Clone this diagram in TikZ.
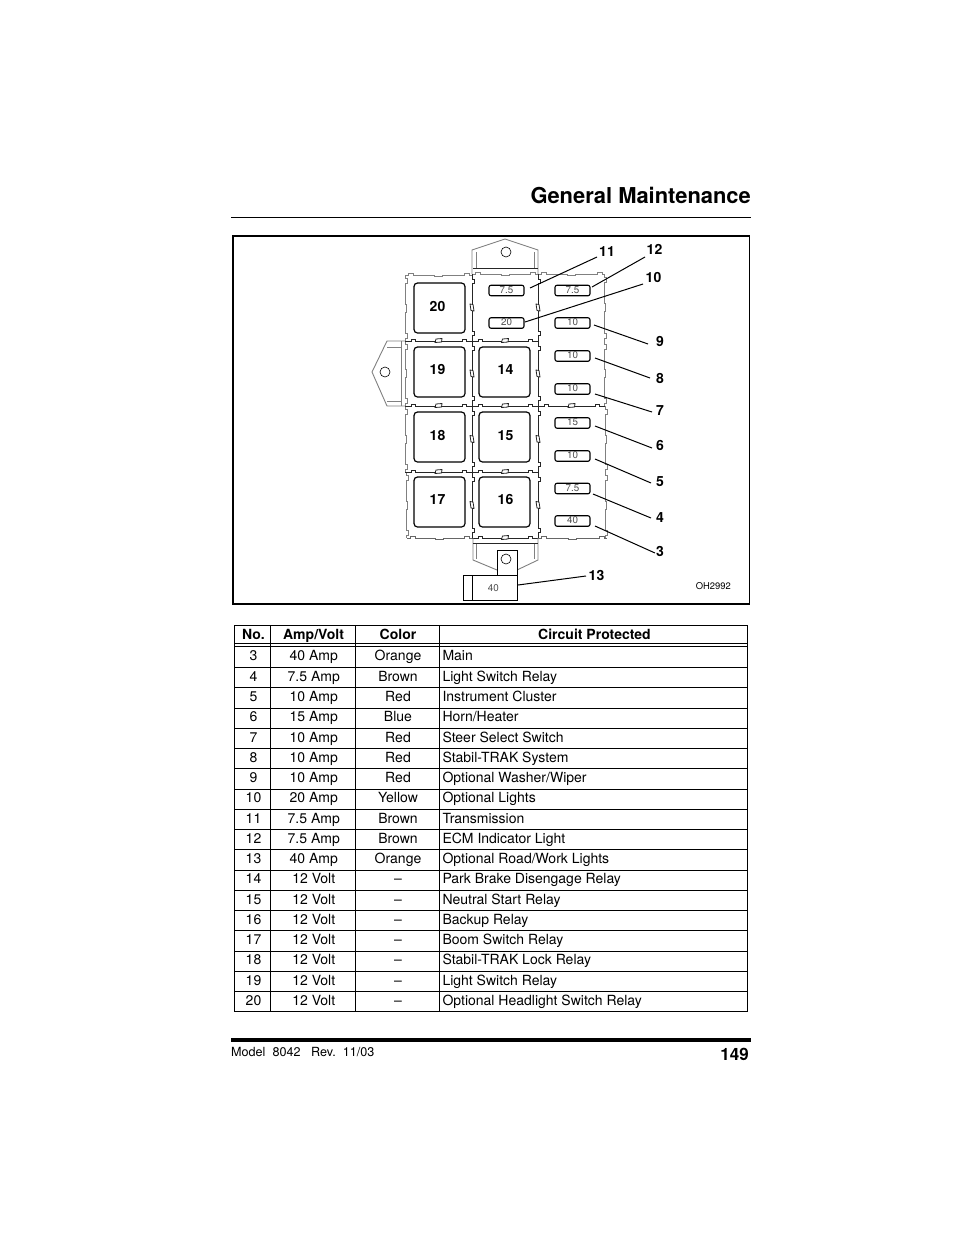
\documentclass[tikz,border=0pt]{standalone}
\usepackage{fontspec}
\setmainfont{TeX Gyre Heros}
\tikzset{
  relay/.style={draw=black,line width=1.2pt,rounded corners=3.5pt,minimum width=51pt,minimum height=50pt,inner sep=0pt},
  relaylabel/.style={inner sep=0pt,font=\fontsize{14}{14}\selectfont\bfseries},
  fuse/.style={draw=black,line width=1.1pt,rounded corners=2pt,minimum width=35pt,minimum height=10.5pt,inner sep=0pt,text=black!70,font=\fontsize{9.8}{9.8}\selectfont},
  callout/.style={inner sep=0pt,font=\fontsize{14}{14}\selectfont\bfseries},
  leader/.style={draw=black,line width=1pt},
  cell/.style={anchor=base,inner sep=0pt,font=\fontsize{14}{14}\selectfont},
  head/.style={anchor=base,inner sep=0pt,font=\fontsize{14}{14}\selectfont\bfseries},
  rule/.style={draw=black,line width=0.7pt},
  outer/.style={draw=black!50,line width=0.9pt},
  inner/.style={draw=black!85,line width=0.8pt},
}
\newcommand{\hedge}[4]{% x1 x2 y style
  \draw[#4] (#1,#3) -- ++(3,0) -- ++(0,-2) -- ++(5,0) -- ++(0,2)
    -- ({(#1+#2)/2-4},#3) -- ++(0,1.5) -- ++(8,0) -- ++(0,-1.5)
    -- (#2-8,#3) -- ++(0,-2) -- ++(5,0) -- ++(0,2) -- (#2,#3);}
\newcommand{\vedge}[4]{% y1 y2 x style
  \draw[#4] (#3,#1) -- ++(0,3) -- ++(2,0) -- ++(0,5) -- ++(-2,0)
    -- (#3,{(#1+#2)/2-4}) -- ++(1.5,0) -- ++(0,8) -- ++(-1.5,0)
    -- (#3,#2-8) -- ++(2,0) -- ++(0,5) -- ++(-2,0) -- (#3,#2);}
\newcommand{\hclip}[3]{% x1 x2 y
  \draw[inner] (#1,#3) -- ++(6,0) -- ++(0,-2) -- ++(4,0) -- ++(0,2) -- ({(#1+#2)/2-3},#3);
  \draw[inner] ({(#1+#2)/2+3},#3) -- (#2-10,#3) -- ++(0,-2) -- ++(4,0) -- ++(0,2) -- (#2,#3);
  \draw[inner] ({(#1+#2)/2-3.5},#3+1.5) -- ++(1,-3.5) -- ++(6,-0.5) -- ++(-0.5,3.5) -- cycle;}
\newcommand{\vclip}[3]{% y1 y2 x
  \draw[inner] (#3,#1) -- ++(0,5) -- ++(2,0) -- ++(0,4) -- ++(-2,0) -- (#3,{(#1+#2)/2-3});
  \draw[inner] (#3,{(#1+#2)/2+3}) -- (#3,#2-10) -- ++(2,0) -- ++(0,4) -- ++(-2,0) -- (#3,#2);
  \draw[inner] (#3-2,{(#1+#2)/2-3.5}) -- ++(3,0.5) -- ++(1,6.5) -- ++(-3,-0.5) -- cycle;}
\begin{document}
\begin{tikzpicture}[x=1pt,y=-1pt]
\useasboundingbox (0,0) rectangle (954,1235);
\fill[white] (0,0) rectangle (954,1235);
% page furniture
\node[anchor=base east,inner sep=0pt,font=\fontsize{21.9}{22}\selectfont\bfseries] (title) at (751,203) {General Maintenance};
\draw[rule] (231,217.5) -- (751,217.5);
\draw[line width=1.5pt] (233,236) rectangle (749.5,604);
\draw[line width=4pt] (231,1040) -- (751,1040);
\node[anchor=base west,inner sep=0pt,font=\fontsize{12.6}{12}\selectfont] (footer) at (231,1056.5) {Model\ \ 8042\ \ \ Rev.\ \ 11/03};
\node[anchor=base east,inner sep=0pt,font=\fontsize{17}{17}\selectfont\bfseries] (page) at (749,1060) {149};
% fuse block outer edges
\hedge{405}{472}{275}{outer}
\hedge{472}{538}{274}{outer}
\hedge{538}{605}{274}{outer}
\vedge{275}{341}{405}{outer}
\vedge{341}{406}{405}{outer}
\vedge{406}{472}{405}{outer}
\vedge{472}{538}{406}{outer}
\vedge{274}{341}{604}{outer}
\vedge{341}{406}{604}{outer}
\vedge{406}{472}{605}{outer}
\vedge{472}{538}{605}{outer}
\hedge{407}{472}{538}{black!60}
\hedge{538}{607}{538}{black!60}
% inner edges
\hclip{405}{472}{341}\hclip{472}{538}{341}
\hclip{405}{472}{406}\hclip{472}{538}{406}\hclip{538}{605}{406}
\hclip{405}{472}{472}\hclip{472}{538}{472}
\hclip{472}{538}{538}
\vclip{274}{341}{472}\vclip{274}{341}{538}
\vclip{341}{406}{472}\vclip{341}{406}{538}
\vclip{406}{472}{472}\vclip{406}{472}{538}
\vclip{472}{538}{472}\vclip{472}{538}{538}
% top tab
\draw[outer] (472,274) -- (472,250) -- (505,239) -- (538,250) -- (538,274);
\draw[outer] (476,252) -- (476,268) (534,252) -- (534,268);
\draw[inner] (473,268) -- (538,268);
\node[draw=black,line width=0.6pt,circle,minimum size=10pt,inner sep=0pt] (holetop) at (506,252) {};
% left tab
\draw[outer] (405,341) -- (387,341) -- (372,372) -- (387,406) -- (405,406);
\draw[outer] (387,347) -- (401,347) (387,401) -- (401,401);
\draw[outer] (401,341) -- (401,406);
\node[draw=black,line width=0.6pt,circle,minimum size=10pt,inner sep=0pt] (holeleft) at (385,372) {};
% bottom tab
\draw[outer] (473,538) -- (473,560) -- (497,570) (538,538) -- (538,560) -- (517,570);
\draw[outer] (476,543) -- (476,559) (534,543) -- (534,559);
\draw[inner] (473,543) -- (538,543);
\draw[draw=black,line width=0.7pt,fill=white] (497,550) rectangle (517,575);
\node[draw=black,line width=0.6pt,circle,minimum size=10pt,inner sep=0pt] (holebottom) at (506,559) {};
% fuse 13 body
\node[draw=black,line width=0.8pt,fill=white,minimum width=54pt,minimum height=25pt,inner sep=0pt,anchor=north west,text=black!70,font=\fontsize{9.8}{9.8}\selectfont] (f13) at (463,575) {\hspace{6pt}\raisebox{0.5pt}{40}};
\draw[line width=0.8pt] ([xshift=9pt]f13.north west) -- ([xshift=9pt]f13.south west);
% relays
\foreach \n/\x/\y in {20/439.5/308,19/439.5/372,18/439.5/437,17/439.5/502,14/504.5/372,15/504.5/437,16/504.5/502}
  \node[relay] (r\n) at (\x,\y) {};
\foreach \n/\x/\y in {20/437.5/306,19/437.5/369.5,18/437.5/435.3,17/437.5/499.5,14/505.5/369.5,15/505.5/435.3,16/505.5/499.5}
  \node[relaylabel] (l\n) at (\x,\y) {\n};
% fuses
\foreach \n/\t/\x/\y in {f11/7.5/506.5/290.5,f10/20/506.5/323,f12/7.5/572.5/290.5,f9/10/572.5/323,f8/10/572.5/356,f7/10/572.5/389,f6/15/572.5/423,f5/10/572.5/456,f4/7.5/572.5/488.5,f3/40/572.5/521}
  \node[fuse] (\n) at (\x,\y) {\raisebox{1pt}{\t}};
% callout numbers
\foreach \n/\x/\y in {11/607/251.5,12/654.5/249.5,10/653.5/277.5,9/660/341.5,8/660/378.5,7/660/410.5,6/660/445.5,5/660/481.5,4/660/517.5,3/660/551.5,13/596.5/575.5}
  \node[callout] (c\n) at (\x,\y) {\n};
% leader ends
\foreach \n/\x/\y in {11/530/288,12/592/287,10/525/322,9/594/325,8/595/358,7/595/394,6/595/426,5/595/459,4/593/494,3/595/526,13/518/585}
  \coordinate (e\n) at (\x,\y);
\foreach \n/\x/\y in {11/597/257,12/645/257,10/643/284,9/648/344,8/650/378,7/652/412,6/652/448,5/651/483,4/651/518,3/655/553,13/586/576}
  \coordinate (s\n) at (\x,\y);
\foreach \n in {3,...,13}
  \draw[leader] (e\n) -- (s\n);
\node[anchor=base east,inner sep=0pt,font=\fontsize{9.4}{9.5}\selectfont] (oh) at (731,589) {OH2992};
% table rules
\draw[rule] (234,625.5) -- (747.5,625.5);
\draw[rule] (234,643.5) -- (747.5,643.5);
\draw[rule] (234,646.5) -- (747.5,646.5);
\foreach \i in {0,...,17}
  \draw[rule] (234,667.5+\i*20.25) -- (747.5,667.5+\i*20.25);
\foreach \x in {234,270,355,439,747.5}
  \draw[rule] (\x,625.5) -- (\x,1011.75);
% table header
\node[head] (h1) at (253.5,639) {No.};
\node[head] (h2) at (313.5,639) {Amp/Volt};
\node[head] (h3) at (398,639) {Color};
\node[head] (h4) at (594.5,639) {Circuit Protected};
% table rows
\foreach \i/\a/\b/\c/\d/\yy in {0/3/40 Amp/Orange/Main/660.2,1/4/7.5 Amp/Brown/Light Switch Relay/681.25,2/5/10 Amp/Red/Instrument Cluster/701.5,3/6/15 Amp/Blue/Horn\slash Heater/721.75,4/7/10 Amp/Red/Steer Select Switch/742,5/8/10 Amp/Red/Stabil-TRAK System/762.25,6/9/10 Amp/Red/Optional Washer\slash Wiper/782.5,7/10/20 Amp/Yellow/Optional Lights/802.75,8/11/7.5 Amp/Brown/Transmission/823,9/12/7.5 Amp/Brown/ECM Indicator Light/843.25,10/13/40 Amp/Orange/Optional Road\slash Work Lights/863.5,11/14/12 Volt/--/Park Brake Disengage Relay/883.75,12/15/12 Volt/--/Neutral Start Relay/904,13/16/12 Volt/--/Backup Relay/924.25,14/17/12 Volt/--/Boom Switch Relay/944.5,15/18/12 Volt/--/Stabil-TRAK Lock Relay/964.75,16/19/12 Volt/--/Light Switch Relay/985,17/20/12 Volt/--/Optional Headlight Switch Relay/1005.25}{
  \node[cell] (a\i) at (253.5,\yy) {\a};
  \node[cell] (b\i) at (313.8,\yy) {\b};
  \node[cell] (k\i) at (398,\yy) {\c};
  \node[cell,anchor=base west] (d\i) at (442.3,\yy) {\d};
}
\end{tikzpicture}
\end{document}
